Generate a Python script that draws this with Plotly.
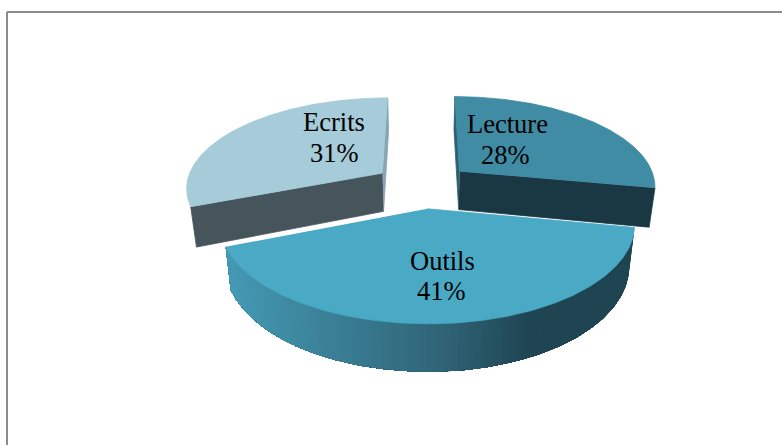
import numpy as np
import plotly.graph_objects as go

categories = ["Lecture", "Outils", "Ecrits"]
values = [28, 41, 31]
top_colors = ["#3f8ca4", "#4aa9c4", "#a6cbd9"]
cut_colors = ["#1a3843", None, "#46545b"]
sliver_colors = ["#2b5f72", None, "#86a6b5"]
label_xy = [(507, 124, 505, 155), (442, 261, 441, 291), (334, 122, 334, 153)]

# projection of the tilted, exploded pie onto the canvas
VX, HY = 422.5, 185.5
R, H, K = 197.0, 90.0, 0.15
EXPLODE, DEPTH, BOTTOM_X = 0.25, 39.0, 0.975


def project(px, pf, down=False):
    s = 1.0 / (1.0 - K * pf)
    x = R * px * s
    y = HY + H * pf * s
    if down:
        x = x * BOTTOM_X
        y = y + DEPTH * s
    return VX + x, y


def shade(t):
    stops = np.array([[0x45, 0x9a, 0xb5], [0x2f, 0x62, 0x74], [0x1f, 0x45, 0x52]])
    if t < 0.55:
        c = stops[0] + (stops[1] - stops[0]) * t / 0.55
    else:
        c = stops[1] + (stops[2] - stops[1]) * min(1, (t - 0.55) / 0.2)
    return "rgb(%d,%d,%d)" % tuple(int(v) for v in c)


def poly(fig, xs, ys, color, width=0.8):
    fig.add_trace(go.Scatter(x=xs, y=ys, mode="lines", fill="toself", fillcolor=color,
                             line=dict(color=color, width=width), hoverinfo="skip", showlegend=False))


fig = go.Figure()
total = sum(values)
edges = np.concatenate([[0], np.cumsum(values)]) / total * 2 * np.pi
order = [0, 2, 1]  # the front slice covers the two back ones

for i in order:
    a0, a1 = edges[i], edges[i + 1]
    mid = (a0 + a1) / 2
    ox, of = EXPLODE * np.sin(mid), -EXPLODE * np.cos(mid)
    th = np.linspace(a0, a1, 241)
    px, pf = ox + np.sin(th), of - np.cos(th)

    tx, ty = project(px, pf)
    ax, ay = project(ox, of)
    bx, by = project(px, pf, True)
    dax, day = project(ox, of, True)

    if i == 1:
        # outer wall, shaded from right (dark) to left (light); each band overlaps the rest
        n = 80
        idx = np.linspace(0, len(th) - 1, n + 1).astype(int)
        for j in range(n):
            xs = np.concatenate([tx[idx[j]:], bx[idx[j]:][::-1]])
            ys = np.concatenate([ty[idx[j]:], by[idx[j]:][::-1]])
            m = tx[idx[j]:idx[j + 1] + 1].mean()
            poly(fig, xs, ys, shade((m - tx.min()) / (tx.max() - tx.min())), width=0)
    else:
        # hidden-side sliver, then the visible cut face
        sliver = -1 if i == 2 else 0
        cut = 0 if i == 2 else -1
        poly(fig, [ax, tx[sliver], bx[sliver], dax], [ay, ty[sliver], by[sliver], day], sliver_colors[i])
        poly(fig, [ax, tx[cut], bx[cut], dax], [ay, ty[cut], by[cut], day], cut_colors[i])

    poly(fig, np.concatenate([[ax], tx]), np.concatenate([[ay], ty]), top_colors[i])

annotations = []
for name, v, (x1, y1, x2, y2) in zip(categories, values, label_xy):
    for txt, x, y in ((name, x1, y1), (f"{v}%", x2, y2)):
        annotations.append(dict(x=x, y=y, text=txt, showarrow=False, xref="x", yref="y",
                                font=dict(family="Liberation Serif", size=26.5, color="#000000")))

frame = dict(type="line", xref="x", yref="y", line=dict(color="#8c8c8c", width=2))
fig.update_layout(
    width=782, height=445, margin=dict(l=0, r=0, t=0, b=0),
    paper_bgcolor="white", plot_bgcolor="white", showlegend=False,
    xaxis=dict(range=[0, 782], visible=False, fixedrange=True),
    yaxis=dict(range=[445, 0], visible=False, fixedrange=True),
    annotations=annotations,
    shapes=[dict(frame, x0=7, y0=445, x1=7, y1=12), dict(frame, x0=7, y0=12, x1=782, y1=12)],
)
fig.write_html("out.html", config=dict(displayModeBar=False),
               post_script="document.body.style.margin='0';document.body.style.overflow='hidden';")
